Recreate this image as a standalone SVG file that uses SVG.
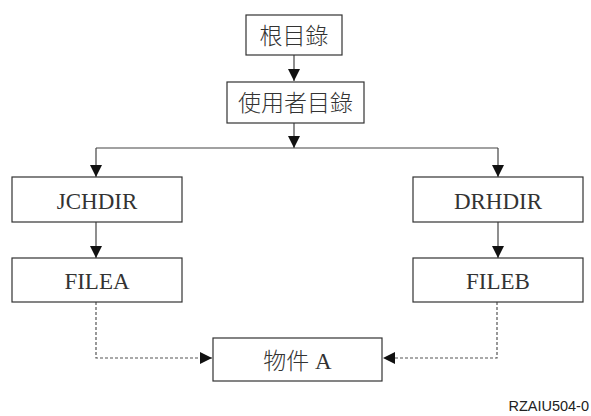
<svg xmlns="http://www.w3.org/2000/svg" width="591" height="416" viewBox="0 0 591 416">
<style>
.box{fill:#fff;stroke:#333;stroke-width:1.2}
.t{font-family:"Liberation Serif","Noto Sans CJK TC",serif;font-size:23px;fill:#333;text-anchor:middle}
.c{font-family:"Liberation Serif","Noto Sans CJK TC",serif;font-size:23px;fill:#333;text-anchor:middle;font-weight:300}
.ln{fill:none;stroke:#444;stroke-width:1.2}
.ds{fill:none;stroke:#555;stroke-width:1.2;stroke-dasharray:3,2}
</style>
<defs>
<marker id="ah" viewBox="0 0 12 12" refX="12" refY="6" markerWidth="12" markerHeight="12" markerUnits="userSpaceOnUse" orient="auto">
<path d="M0,0 L12,6 L0,12 Z" fill="#111"/>
</marker>
</defs>
<g id="connectors">
<line class="ln" x1="294" y1="55" x2="294" y2="81" marker-end="url(#ah)"/>
<line class="ln" x1="294" y1="123" x2="294" y2="148" marker-end="url(#ah)"/>
<line class="ln" x1="96" y1="148" x2="498" y2="148"/>
<line class="ln" x1="96" y1="148" x2="96" y2="177" marker-end="url(#ah)"/>
<line class="ln" x1="498" y1="148" x2="498" y2="177" marker-end="url(#ah)"/>
<line class="ln" x1="96" y1="222" x2="96" y2="258" marker-end="url(#ah)"/>
<line class="ln" x1="498" y1="222" x2="498" y2="258" marker-end="url(#ah)"/>
<polyline class="ds" points="96,302 96,358 212,358" marker-end="url(#ah)"/>
<polyline class="ds" points="497,302 497,358 383,358" marker-end="url(#ah)"/>
</g>
<g id="root">
<rect class="box" x="246" y="15" width="96" height="40"/>
<text class="c" x="294" y="44">根目錄</text>
</g>
<g id="user">
<rect class="box" x="227" y="82" width="137" height="41"/>
<text class="c" x="295.5" y="111">使用者目錄</text>
</g>
<g id="jchdir">
<rect class="box" x="12" y="177" width="170" height="45"/>
<text class="t" x="97" y="209">JCHDIR</text>
</g>
<g id="drhdir">
<rect class="box" x="413" y="177" width="170" height="45"/>
<text class="t" x="498" y="209">DRHDIR</text>
</g>
<g id="filea">
<rect class="box" x="12" y="258" width="170" height="44"/>
<text class="t" x="97" y="289">FILEA</text>
</g>
<g id="fileb">
<rect class="box" x="413" y="258" width="170" height="44"/>
<text class="t" x="498" y="289">FILEB</text>
</g>
<g id="objecta">
<rect class="box" x="213" y="338" width="169" height="43"/>
<text class="c" x="297.5" y="369">物件 A</text>
</g>
<text x="589" y="411" font-family="Liberation Sans, sans-serif" font-size="14.5" fill="#222" text-anchor="end">RZAIU504-0</text>
</svg>
